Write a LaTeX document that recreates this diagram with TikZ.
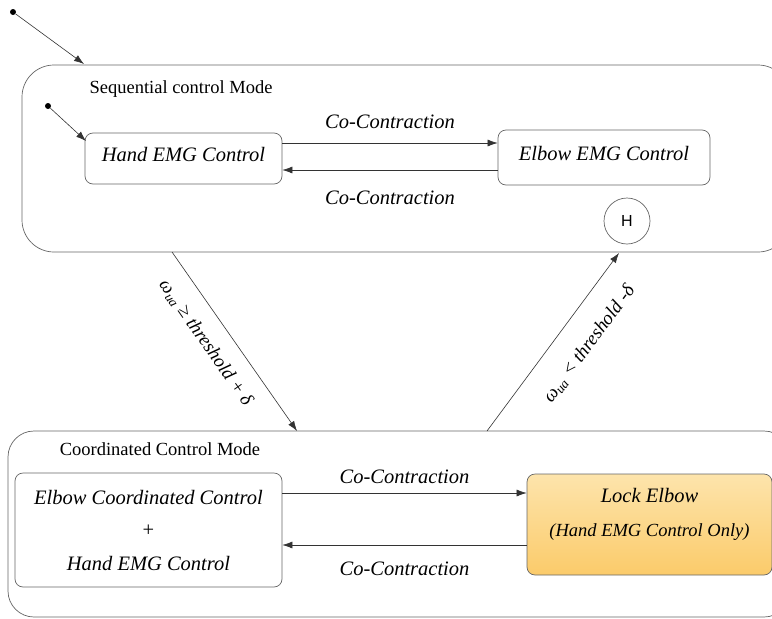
\documentclass[tikz,border=0pt]{standalone}
\usepackage{fontspec}
\setmainfont{Liberation Serif}
\newfontfamily\hfont{Liberation Sans}
\usetikzlibrary{arrows.meta}
\definecolor{lockTop}{HTML}{FDE4AC}
\definecolor{lockBottom}{HTML}{FBCB6A}
\begin{document}
\begin{tikzpicture}[x=1pt, y=-1pt, >={Latex[length=10pt,width=7pt]}]
        \tikzstyle{mode}=[draw=black!60, line width=0.7pt, rounded corners=32pt, inner sep=0pt]
        \tikzstyle{state}=[draw=black!60, line width=0.7pt, rounded corners=8pt, inner sep=0pt, align=center, font=\fontsize{20.5}{24}\selectfont\itshape]
        \tikzstyle{modelabel}=[inner sep=1pt, font=\fontsize{18.5}{22}\selectfont]
        \tikzstyle{linenode}=[pos=0.5, inner sep=2pt, font=\fontsize{20.5}{24}\selectfont\itshape]
        \tikzstyle{condnode}=[inner sep=2pt, sloped, font=\fontsize{19}{22}\selectfont\itshape]
        \tikzstyle{dot}=[circle, fill=black, inner sep=0pt, minimum size=6pt]
        \tikzstyle{every edge}=[draw=black!80, line width=0.6pt]
        \useasboundingbox (0,0) rectangle (772,619);
        \clip (0,0) rectangle (772,619);
        \node[mode, minimum width=768pt, minimum height=187pt] (seq) at (406,158.5) {};
        \node[mode, rounded corners=26pt, minimum width=782pt, minimum height=186pt] (coord) at (399,524) {};
        \node[modelabel] (seqlabel) at (181,89) {Sequential control Mode};
        \node[modelabel] (coordlabel) at (160,449) {Coordinated Control Mode};
        \node[dot] (init) at (13,12) {};
        \node[dot] (subinit) at (48,106) {};
        \coordinate (seqin) at (84,64);
        \coordinate (handin) at (86,141);
        \node[state, minimum width=197pt, minimum height=51pt, text depth=8pt] (hand) at (183.5,158.5) {Hand EMG Control};
        \node[state, minimum width=212pt, minimum height=55pt, text depth=8pt] (elbow) at (604,157.5) {Elbow EMG Control};
        \node[circle, draw=black!60, line width=0.7pt, minimum size=46pt, inner sep=0pt, font=\hfont\fontsize{16}{18}\selectfont] (hist) at (627,221) {H};
        \node[state, minimum width=267pt, minimum height=114pt] (ecc) at (148.5,530) {Elbow Coordinated Control\\[8pt]{\upshape +}\\[10pt]Hand EMG Control};
        \node[state, minimum width=245pt, minimum height=101pt, top color=lockTop, bottom color=lockBottom] (lock) at (649.5,524.5) {Lock Elbow\\[10pt]{\fontsize{18.5}{22}\selectfont\itshape (Hand EMG Control Only)}\\[0pt]\mbox{}};
        \coordinate (seqout) at (172,252);
        \coordinate (coordin) at (297,431);
        \coordinate (coordout) at (487,431);
        \coordinate (seqback) at (619,253);
        \path [->] (init) edge[] (seqin);
        \path [->] (subinit) edge[] (handin);
        \path [->] ([yshift=15.5pt]hand.east) edge[] node[linenode, above=12pt] {Co-Contraction} ([yshift=15.5pt]hand.east -| elbow.west);
        \path [->] ([yshift=-12.5pt]elbow.west) edge[] node[linenode, below=19pt] {Co-Contraction} ([yshift=-12.5pt]elbow.west -| hand.east);
        \path [->] ([yshift=37pt]ecc.east) edge[] node[linenode, above=7pt] {Co-Contraction} ([yshift=37pt]ecc.east -| lock.west);
        \path [->] ([yshift=-20.5pt]lock.west) edge[] node[linenode, below=15pt] {Co-Contraction} ([yshift=-20.5pt]lock.west -| ecc.east);
        \path [->] (seqout) edge[] node[condnode, below=14pt, pos=0.43] {ω\textsubscript{ua} ≥ threshold + δ} (coordin);
        \path [->] (coordout) edge[] node[condnode, below=20pt, pos=0.59] {ω\textsubscript{ua} < threshold -δ} (seqback);
        % \path [->] (hist) edge[dashed] (seqback);
    \end{tikzpicture}
\end{document}
